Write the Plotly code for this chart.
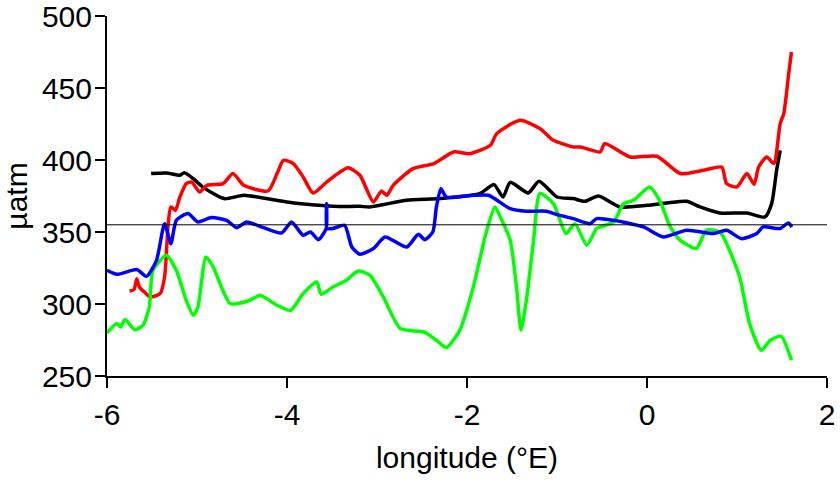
import plotly.graph_objects as go

# Reference level
ref_level = 355

# Black series
black_x = [-5.51, -5.34, -5.19, -5.14, -5.04, -4.93, -4.70, -4.48, -4.23, -4.00, -3.78, -3.49, -3.19,
           -3.08, -2.67, -2.30, -1.86, -1.70, -1.60, -1.52, -1.32, -1.20, -1.00, -0.82, -0.69, -0.54,
           -0.30, 0.00, 0.22, 0.44, 0.59, 0.81, 1.11, 1.31, 1.385, 1.44, 1.48]
black_y = [390.6, 391.0, 389.4, 391.2, 387.0, 381.0, 373.2, 375.5, 373.2, 370.8, 369.2, 367.8, 367.8,
           367.4, 372.0, 373.2, 376.7, 382.9, 374.3, 384.5, 377.1, 385.2, 374.3, 373.2, 371.3, 375.0,
           367.4, 368.5, 370.1, 371.3, 367.4, 363.2, 363.2, 360.4, 369.7, 392.8, 406.7]

# Red series
red_x = [-5.75, -5.70, -5.67, -5.64, -5.58, -5.52, -5.41, -5.36, -5.32, -5.29, -5.24, -5.19, -5.12, -5.06,
         -4.97, -4.89, -4.71, -4.60, -4.48, -4.21, -4.11, -4.04, -3.93, -3.82, -3.71, -3.56, -3.41, -3.32,
         -3.19, -3.04, -2.95, -2.89, -2.82, -2.60, -2.37, -2.15, -1.97, -1.74, -1.67, -1.41, -1.19, -1.04,
         -0.82, -0.74, -0.52, -0.47, -0.19, 0.11, 0.37, 0.63, 0.83, 0.885, 1.00, 1.11, 1.19, 1.24, 1.33,
         1.41, 1.48, 1.52, 1.57, 1.605]
red_y = [309.0, 310.0, 317.6, 311.8, 308.0, 304.9, 307.2, 318.8, 355.8, 367.4, 365.0, 374.3, 383.6, 384.7,
         377.8, 382.4, 383.6, 390.6, 382.4, 378.5, 390.6, 399.8, 397.5, 388.2, 377.1, 384.7, 391.7, 394.7,
         389.4, 370.8, 378.5, 375.5, 382.4, 394.0, 397.5, 405.6, 404.4, 410.2, 418.3, 427.6, 421.8, 413.7,
         409.0, 409.0, 405.6, 411.4, 402.1, 402.6, 390.6, 392.9, 395.1, 383.6, 381.3, 390.6, 383.1, 395.1,
         402.1, 397.5, 425.3, 432.2, 457.6, 475.0]

# Blue series
blue_x = [-6.00, -5.89, -5.67, -5.56, -5.45, -5.36, -5.29, -5.23, -5.10, -4.99, -4.84, -4.67, -4.56, -4.45,
          -4.26, -4.06, -3.95, -3.82, -3.74, -3.65, -3.565, -3.56, -3.555, -3.49, -3.36, -3.28, -3.19, -3.04,
          -2.91, -2.67, -2.54, -2.47, -2.38, -2.34, -2.29, -2.23, -1.93, -1.76, -1.52, -1.34, -1.12, -1.00,
          -0.82, -0.63, -0.56, -0.37, -0.04, 0.18, 0.44, 0.74, 0.885, 1.05, 1.22, 1.29, 1.48, 1.57, 1.61]
blue_y = [323.4, 320.6, 323.9, 319.2, 330.3, 355.8, 341.9, 358.1, 362.8, 357.0, 360.0, 358.1, 353.0, 357.0,
          353.0, 349.3, 357.0, 347.7, 350.0, 344.7, 352.4, 369.7, 352.4, 352.4, 354.7, 339.6, 334.5, 338.5,
          346.5, 339.6, 348.4, 344.7, 350.0, 367.4, 380.1, 374.3, 375.5, 375.5, 366.2, 364.4, 364.4, 362.1,
          359.3, 355.8, 359.3, 358.1, 353.5, 346.5, 351.2, 348.9, 351.2, 345.4, 348.9, 353.5, 352.4, 356.3, 353.5]

# Green series
green_x = [-6.00, -5.89, -5.85, -5.80, -5.69, -5.60, -5.53, -5.49, -5.34, -5.23, -5.12, -5.04, -4.99, -4.90,
           -4.82, -4.63, -4.41, -4.30, -4.11, -3.96, -3.82, -3.67, -3.62, -3.49, -3.34, -3.21, -3.08, -2.93,
           -2.74, -2.48, -2.34, -2.23, -2.08, -1.93, -1.79, -1.69, -1.63, -1.52, -1.45, -1.40, -1.34, -1.26,
           -1.19, -1.04, -0.90, -0.80, -0.67, -0.56, -0.52, -0.37, -0.26, -0.15, 0.03, 0.14, 0.26, 0.37, 0.55,
           0.66, 0.81, 0.885, 1.03, 1.14, 1.27, 1.37, 1.49, 1.605]
green_y = [279.9, 286.4, 284.0, 289.2, 282.2, 285.2, 297.9, 323.4, 333.8, 323.4, 302.6, 292.2, 297.9, 332.6,
           325.7, 300.3, 302.6, 306.0, 299.1, 295.6, 307.2, 315.3, 306.7, 311.8, 316.5, 322.9, 320.0, 304.9,
           282.9, 280.6, 274.8, 269.7, 281.7, 311.8, 348.9, 367.4, 360.4, 344.2, 311.8, 281.7, 302.6, 344.2,
           376.7, 369.7, 348.9, 355.8, 340.8, 352.4, 353.5, 357.0, 369.7, 372.0, 381.3, 372.0, 353.5, 344.2, 338.5,
           351.2, 350.0, 341.9, 318.8, 286.4, 267.8, 274.8, 277.6, 260.9]

x_ticks = [-6, -4, -2, 0, 2]
x_tick_labels = ["-6", "-4", "-2", "0", "2"]
y_ticks = [250, 300, 350, 400, 450, 500]

fig = go.Figure()
fig.add_hline(y=ref_level, line=dict(color="black", width=1))
for xs, ys, col in [(black_x, black_y, "#000000"), (red_x, red_y, "#ff0000"),
                    (green_x, green_y, "#00ff00"), (blue_x, blue_y, "#0000ff")]:
    fig.add_trace(go.Scatter(x=xs, y=ys, mode="lines",
                             line=dict(color=col, width=3.5, shape="spline", smoothing=0.6),
                             showlegend=False))

font = dict(family="Liberation Sans, Arial, sans-serif", size=30, color="black")
fig.update_layout(
    width=840, height=483,
    margin=dict(l=107, r=13, t=16, b=107),
    plot_bgcolor="white", paper_bgcolor="white",
    font=font,
    xaxis=dict(range=[-6, 2], tickvals=x_ticks, ticktext=x_tick_labels, showline=True,
               linecolor="black", linewidth=2, automargin=False, ticklabelstandoff=1,
               ticklabeloverflow="allow",
               ticks="outside", ticklen=10, tickwidth=2, tickcolor="black", showgrid=False,
               zeroline=False, title=dict(text="longitude (°E)", font=font, standoff=17)),
    yaxis=dict(range=[250, 500], tickvals=y_ticks, showline=True, linecolor="black", linewidth=2,
               automargin=False, ticklabelstandoff=-3, ticklabeloverflow="allow",
               ticks="outside", ticklen=10, tickwidth=2, tickcolor="black", showgrid=False,
               zeroline=False, title=dict(text="µatm", font=font, standoff=9)),
)
fig.write_html("out.html", post_script="document.body.style.margin='0';",
               config={"displayModeBar": False})
